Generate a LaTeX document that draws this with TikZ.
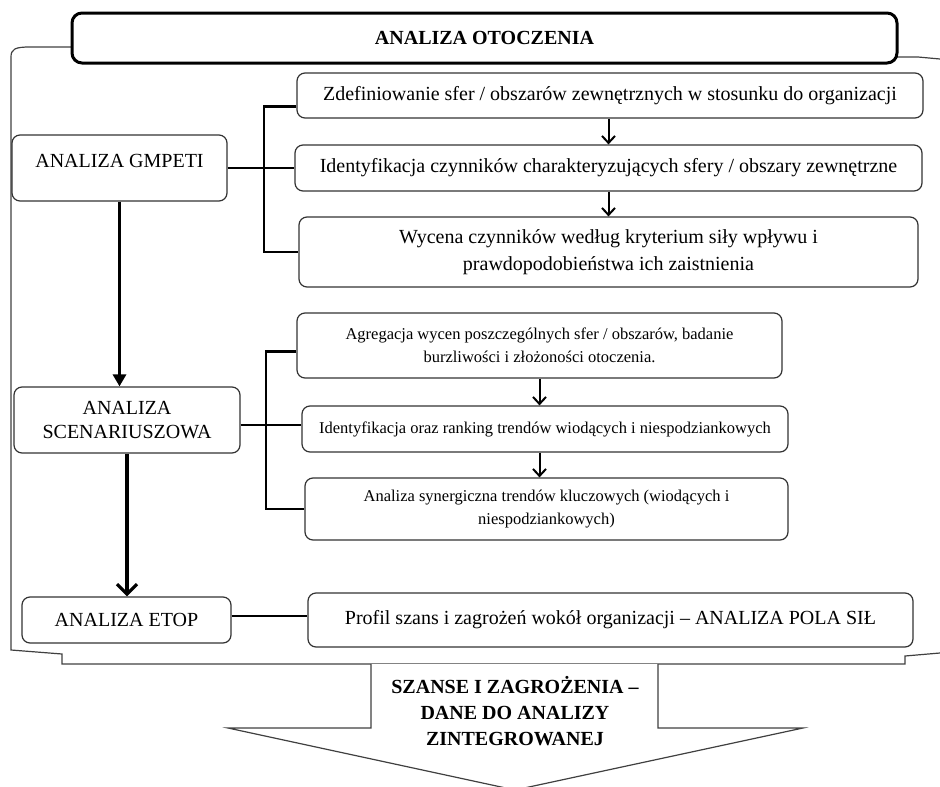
\documentclass[tikz,border=0pt]{standalone}
\usepackage{fontspec}
\setmainfont{Liberation Serif}
\usetikzlibrary{arrows.meta}
\begin{document}
\begin{tikzpicture}[x=1pt,y=-1pt,
  box/.style={draw=black!80, line width=1.2pt, rounded corners=8pt, fill=white,
    align=center, inner sep=0pt, font=\fontsize{20}{27}\selectfont},
  smallbox/.style={box, font=\fontsize{16.5}{23}\selectfont},
  titlebox/.style={draw=black, line width=3pt, rounded corners=10pt, fill=white,
    inner sep=0pt, font=\bfseries\fontsize{20}{24}\selectfont},
  link/.style={line width=2.8pt, draw=black},
  frame/.style={line width=1.2pt, draw=black!75},
  smallarrow/.style={line width=2pt, draw=black, -{Straight Barb[length=7pt,width=13pt]}},
  fillarrow/.style={line width=3.2pt, draw=black, -{Triangle[length=12pt,width=13pt]}},
  openarrow/.style={line width=3.2pt, draw=black, -{Straight Barb[length=10pt,width=20pt]}},
  outcome/.style={align=center, font=\bfseries\fontsize{20}{26}\selectfont}
]
\useasboundingbox (0,0) rectangle (940,787);

% enclosing bracket around the whole analysis
\coordinate (fl) at (72,47);
\coordinate (fr) at (897,57);
\draw[frame] (fl) -- (30,47) .. controls (15,47) and (11,49) .. (11,57)
  -- (11,650) -- (62,654) -- (62,664) -- (905,664) -- (905,656) -- (940,653);
\draw[frame] (fr) -- (918,57) -- (940,59);

% outcome arrow
\draw[frame, fill=white] (371,664) -- (371,728) -- (228,728) -- (515,790)
  -- (803,728) -- (658,728) -- (658,664);
\node[outcome] (out) at (515,711) {SZANSE I ZAGROŻENIA –\\DANE DO ANALIZY\\ZINTEGROWANEJ};

% title
\node[titlebox, minimum width=825pt, minimum height=50pt] (title) at (484.5,38)
  {ANALIZA OTOCZENIA};

% left column
\node[box, minimum width=215pt, minimum height=66pt, text height=14pt, text depth=16pt]
  (gmpeti) at (119.5,168) {ANALIZA GMPETI};
\node[box, font=\fontsize{20}{24}\selectfont, minimum width=226pt, minimum height=66pt]
  (scen) at (127,420) {ANALIZA\\SCENARIUSZOWA};
\node[box, minimum width=209pt, minimum height=46pt] (etop) at (126.5,620)
  {ANALIZA ETOP};

% right column
\node[box, minimum width=626pt, minimum height=45pt] (b1) at (610,95.5)
  {Zdefiniowanie sfer / obszarów zewnętrznych w stosunku do organizacji};
\node[box, minimum width=627pt, minimum height=46pt] (b2) at (608.5,168)
  {Identyfikacja czynników charakteryzujących sfery / obszary zewnętrzne};
\node[box, minimum width=619pt, minimum height=70pt] (b3) at (608.5,252)
  {Wycena czynników według kryterium siły wpływu i\\prawdopodobieństwa ich zaistnienia};
\node[smallbox, minimum width=485pt, minimum height=65pt] (b4) at (539.5,345.5)
  {Agregacja wycen poszczególnych sfer / obszarów, badanie\\burzliwości i złożoności otoczenia.};
\node[smallbox, minimum width=486pt, minimum height=46pt] (b5) at (545,429)
  {Identyfikacja oraz ranking trendów wiodących i niespodziankowych};
\node[smallbox, minimum width=483pt, minimum height=62pt] (b6) at (546.5,509)
  {Analiza synergiczna trendów kluczowych (wiodących i\\niespodziankowych)};
\node[box, minimum width=605pt, minimum height=54pt] (b7) at (610.5,620)
  {Profil szans i zagrożeń wokół organizacji – ANALIZA POLA SIŁ};

% brackets joining each analysis to its steps
\coordinate (gx) at (264,0);
\coordinate (sx) at (266,0);
\coordinate (sy) at (0,425);
\draw[link] ([yshift=-11pt]b1.west) -| (b3.west -| gx) -- (b3.west);
\draw[link] (gmpeti.east) -- (b2.west);
\draw[link] ([yshift=-6pt]b4.west) -| (b6.west -| sx) -- (b6.west);
\draw[link] (scen.east |- sy) -- (b5.west |- sy);
\draw[link] ([yshift=4pt]etop.east) -- ([yshift=4pt]b7.west);

% step order within each analysis
\draw[smallarrow] (b2.north |- b1.south) -- (b2.north);
\draw[smallarrow] (b2.south) -- (b2.south |- b3.north);
\draw[smallarrow] (b4.south) -- (b4.south |- b5.north);
\draw[smallarrow] (b4.south |- b5.south) -- (b4.south |- b6.north);

% sequence of analyses
\draw[fillarrow] (gmpeti.south) -- (gmpeti.south |- scen.north);
\draw[openarrow] (scen.south) -- (scen.south |- etop.north);
\end{tikzpicture}
\end{document}
